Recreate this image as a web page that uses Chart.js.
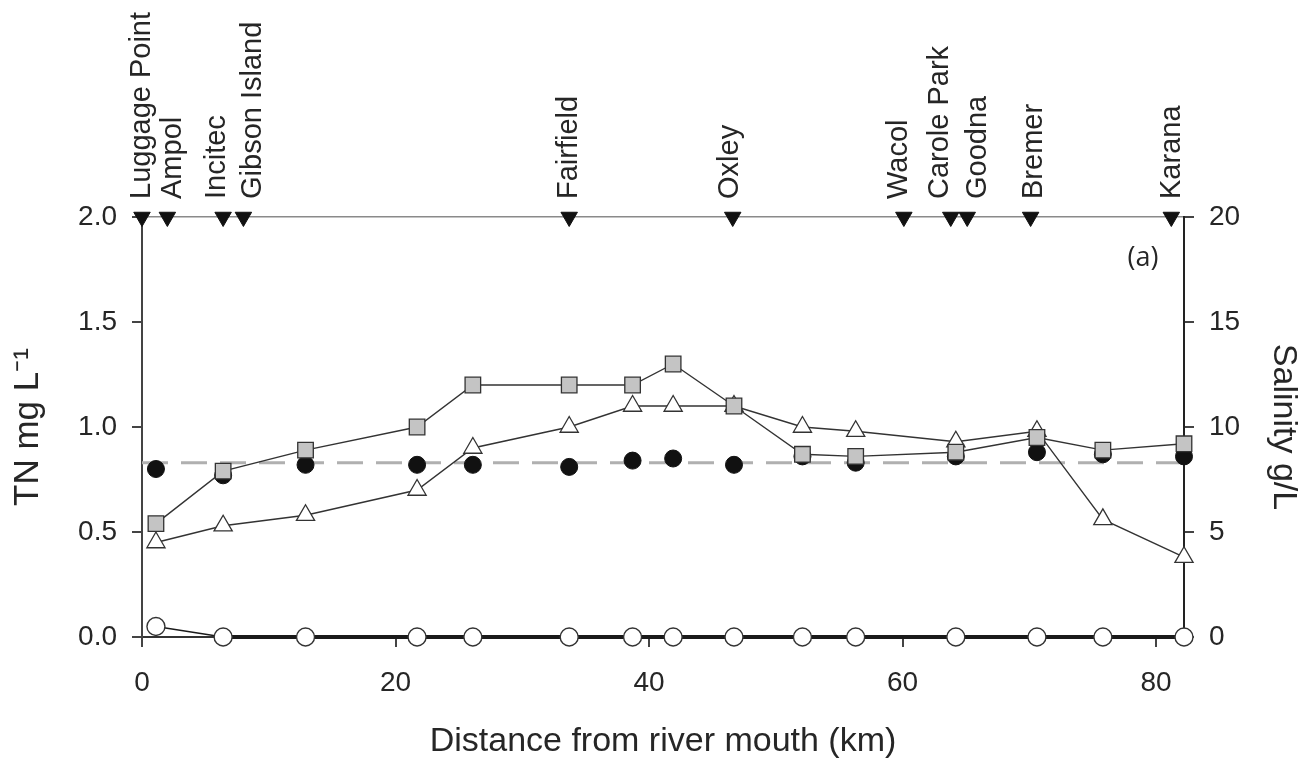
<!DOCTYPE html>
<html>
<head>
<meta charset="utf-8">
<script src="https://cdn.jsdelivr.net/npm/chart.js@4/dist/chart.umd.min.js"></script>
<style>
  body { margin: 0; background: #fff; }
  #wrap { width: 1313px; height: 760px; }
</style>
</head>
<body>
<div id="wrap"><canvas id="myChart"></canvas></div>
<script>
// distance of each sampling point from the river mouth (km)
const distKm = [1.1, 6.4, 12.9, 21.7, 26.1, 33.7, 38.7, 41.9, 46.7, 52.1, 56.3, 64.2, 70.6, 75.8, 82.2];
// series, read against the left axis (TN mg/L)
const squareSeries = [0.54, 0.79, 0.89, 1.00, 1.20, 1.20, 1.20, 1.30, 1.10, 0.87, 0.86, 0.88, 0.95, 0.89, 0.92];
const triangleSeries = [0.45, 0.53, 0.58, 0.70, 0.90, 1.00, 1.10, 1.10, 1.10, 1.00, 0.98, 0.93, 0.98, 0.56, 0.38];
const filledSeries = [0.80, 0.77, 0.82, 0.82, 0.82, 0.81, 0.84, 0.85, 0.82, 0.86, 0.83, 0.86, 0.88, 0.87, 0.86];
const openSeries = [0.05, 0, 0, 0, 0, 0, 0, 0, 0, 0, 0, 0, 0, 0, 0];
const refLevel = 0.83;

// discharge sites along the top axis
const siteNames = ['Luggage Point', 'Ampol', 'Incitec', 'Gibson Island', 'Fairfield', 'Oxley',
  'Wacol', 'Carole Park', 'Goodna', 'Bremer', 'Karana'];
const siteKm = [0, 2.0, 6.4, 8.0, 33.7, 46.6, 60.1, 63.8, 65.1, 70.1, 81.2];

// axes
const xMin = 0, xMax = 82.2;
const xTicks = [0, 20, 40, 60, 80];
const tnTicks = [0, 0.5, 1.0, 1.5, 2.0];
const salTicks = [0, 5, 10, 15, 20];

const FONT = "'Liberation Sans', Arial, sans-serif";
const ink = '#262626';

const pts = arr => arr.map((v, i) => ({ x: distKm[i], y: v }));

// site names above the top axis + panel letter
const labelPlugin = {
  id: 'siteLabels',
  afterDraw(chart) {
    const { ctx, scales } = chart;
    const nudge = [0, 6, -6, 10, 0, -3, -5, -11, 11, 3, 1];
    ctx.save();
    ctx.fillStyle = ink;
    ctx.font = '29px ' + FONT;
    ctx.textAlign = 'left';
    ctx.textBaseline = 'middle';
    siteNames.forEach((name, i) => {
      const x = scales.x.getPixelForValue(siteKm[i]) + nudge[i];
      ctx.save();
      ctx.translate(x, 199);
      ctx.rotate(-Math.PI / 2);
      ctx.fillText(name, 0, 0);
      ctx.restore();
    });
    ctx.font = "27px 'Open Sans', sans-serif";
    ctx.textAlign = 'center';
    ctx.fillText('(a)', chart.chartArea.right - 41, chart.chartArea.top + 41);
    ctx.restore();
  }
};

const ctx = document.getElementById('myChart').getContext('2d');
const myChart = new Chart(ctx, {
  type: 'scatter',
  data: {
    datasets: [
      {
        data: pts(squareSeries),
        showLine: true,
        borderColor: '#333',
        borderWidth: 1.4,
        pointStyle: 'rect',
        pointRadius: 11,
        pointBackgroundColor: '#c4c4c4',
        pointBorderColor: '#333',
        pointBorderWidth: 1.3,
        clip: false
      },
      {
        data: pts(triangleSeries),
        showLine: true,
        borderColor: '#333',
        borderWidth: 1.4,
        pointStyle: 'triangle',
        pointRadius: 10.5,
        pointBackgroundColor: '#fff',
        pointBorderColor: '#333',
        pointBorderWidth: 1.3,
        clip: false
      },
      {
        data: pts(filledSeries),
        showLine: false,
        pointStyle: 'circle',
        pointRadius: 8.5,
        pointBackgroundColor: '#111',
        pointBorderColor: '#111',
        pointBorderWidth: 1,
        clip: false
      },
      {
        data: pts(openSeries),
        showLine: true,
        borderColor: '#1a1a1a',
        borderWidth: 4,
        segment: { borderWidth: c => (c.p0DataIndex === 0 ? 1.4 : 4) },
        pointStyle: 'circle',
        pointRadius: 9,
        pointBackgroundColor: '#fff',
        pointBorderColor: '#333',
        pointBorderWidth: 1.4,
        clip: false
      },
      {
        data: siteKm.map(k => ({ x: k, y: 2.0 })),
        showLine: false,
        pointStyle: 'triangle',
        rotation: 180,
        pointRadius: 9.5,
        pointBackgroundColor: '#111',
        pointBorderColor: '#111',
        clip: false
      },
      {
        data: [{ x: xMin, y: refLevel }, { x: xMax, y: refLevel }],
        showLine: true,
        borderColor: '#b0b0b0',
        borderWidth: 3,
        borderDash: [26, 13],
        pointRadius: 0,
        clip: false
      }
    ]
  },
  options: {
    responsive: true,
    maintainAspectRatio: false,
    animation: false,
    layout: { padding: { top: 217, left: 0, right: 0, bottom: 0 } },
    plugins: { legend: { display: false }, tooltip: { enabled: false } },
    elements: { line: { tension: 0 } },
    scales: {
      x: {
        type: 'linear',
        position: 'bottom',
        min: xMin,
        max: xMax,
        afterFit: s => { s.height = 123; },
        afterBuildTicks: s => { s.ticks = xTicks.map(v => ({ value: v })); },
        grid: { drawOnChartArea: false, drawTicks: true, tickLength: 10, color: '#444', lineWidth: 2 },
        border: { color: '#333', width: 2 },
        ticks: { padding: 19, color: ink, font: { family: FONT, size: 28 } },
        title: {
          display: true,
          text: 'Distance from river mouth (km)',
          color: ink,
          font: { family: FONT, size: 34, lineHeight: 1 },
          padding: { top: 0, bottom: 1 }
        }
      },
      xTop: {
        type: 'linear',
        position: 'top',
        min: xMin,
        max: xMax,
        afterFit: s => { s.height = 0; },
        ticks: { display: false },
        grid: { drawOnChartArea: false, drawTicks: false },
        border: { color: '#8a8a8a', width: 1.5 }
      },
      y: {
        position: 'left',
        min: 0,
        max: 2,
        afterFit: s => { s.width = 142; },
        afterBuildTicks: s => { s.ticks = tnTicks.map(v => ({ value: v })); },
        grid: { drawOnChartArea: false, drawTicks: true, tickLength: 10, color: '#444', lineWidth: 2 },
        border: { color: '#444', width: 2 },
        ticks: { padding: 15, color: ink, font: { family: FONT, size: 28 }, callback: v => v.toFixed(1) },
        title: {
          display: true,
          text: 'TN mg L\u207B\u00B9',
          color: ink,
          font: { family: FONT, size: 35, lineHeight: 1 },
          padding: { top: 11, bottom: 0 }
        }
      },
      y2: {
        position: 'right',
        min: 0,
        max: 20,
        afterFit: s => { s.width = 129; },
        afterBuildTicks: s => { s.ticks = salTicks.map(v => ({ value: v })); },
        grid: { drawOnChartArea: false, drawTicks: true, tickLength: 10, color: '#444', lineWidth: 2 },
        border: { color: '#222', width: 2 },
        ticks: { padding: 15, color: ink, font: { family: FONT, size: 28 } },
        title: {
          display: true,
          text: 'Salinity g/L',
          color: ink,
          font: { family: FONT, size: 34, lineHeight: 1 },
          padding: { top: 13, bottom: 0 }
        }
      }
    }
  },
  plugins: [labelPlugin]
});
</script>
</body>
</html>
